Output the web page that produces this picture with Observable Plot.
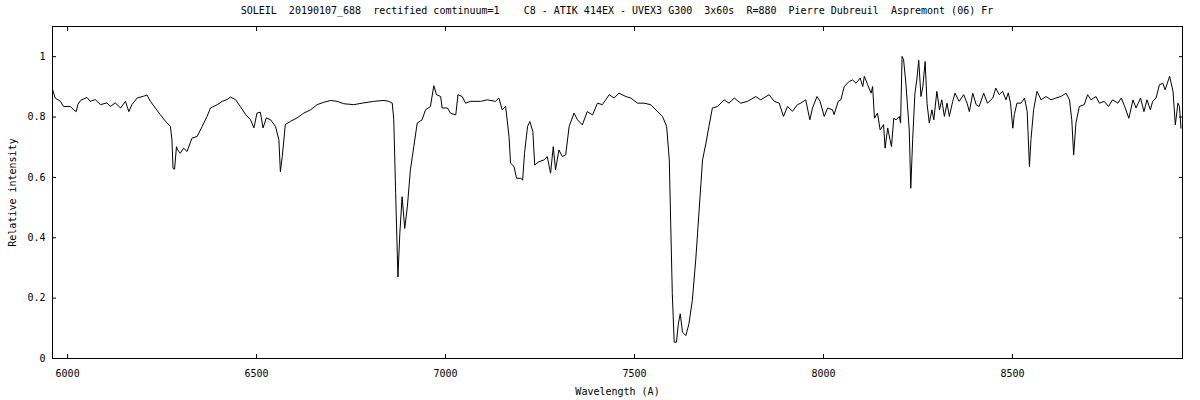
<!DOCTYPE html>
<html>
<head>
<meta charset="utf-8">
<script src="https://cdn.jsdelivr.net/npm/d3@7"></script>
<script src="https://cdn.jsdelivr.net/npm/@observablehq/plot@0.6"></script>
<style>
  body { margin: 0; background: #fff; }
  #wrap { position: relative; width: 1200px; height: 400px; }
  #title { position: absolute; top: 5px; left: 52px; width: 1130px; text-align: center;
    font: 10px "DejaVu Sans Mono", monospace; white-space: pre; color: #000; }
</style>
</head>
<body>
<div id="wrap"><div id="title">SOLEIL  20190107_688  rectified comtinuum=1    C8 - ATIK 414EX - UVEX3 G300  3x60s  R=880  Pierre Dubreuil  Aspremont (06) Fr</div></div>
<script>
const wavelengths = [
5961,5967,5981,5989,6007,6016,6023,6027,6034,6051,6060,6073,6087,6104,6113,6126,6140,6153,6162,6170,
6184,6201,6210,6219,6232,6245,6259,6272,6276,6279,6283,6288,6291,6298,6307,6316,6329,6343,6356,6369,
6378,6396,6409,6422,6431,6444,6457,6471,6484,6493,6501,6510,6517,6526,6537,6550,6559,6563,6568,6576,
6590,6607,6625,6643,6660,6678,6696,6713,6731,6757,6784,6810,6837,6850,6859,6863,6868,6874,6879,6885,
6892,6899,6907,6916,6925,6938,6947,6960,6969,6976,6987,6991,7005,7013,7027,7033,7044,7053,7066,7093,
7110,7132,7141,7150,7159,7168,7172,7181,7188,7199,7204,7209,7217,7223,7231,7236,7247,7261,7269,7278,
7285,7291,7300,7309,7318,7327,7340,7349,7362,7375,7389,7402,7415,7433,7446,7459,7477,7490,7508,7525,
7543,7561,7574,7585,7592,7596,7600,7605,7611,7616,7621,7627,7636,7644,7653,7662,7671,7680,7689,7697,
7706,7720,7737,7750,7764,7781,7799,7821,7834,7856,7870,7883,7894,7905,7918,7931,7940,7953,7964,7971,
7983,7991,8002,8011,8024,8028,8039,8046,8055,8068,8077,8086,8097,8104,8108,8117,8126,8130,8135,8143,
8150,8159,8163,8170,8176,8180,8186,8192,8201,8204,8208,8212,8218,8227,8231,8236,8242,8247,8252,8258,
8263,8269,8274,8280,8287,8292,8300,8307,8313,8320,8327,8333,8342,8348,8359,8371,8380,8386,8395,8404,
8412,8424,8434,8448,8456,8465,8474,8483,8489,8495,8501,8505,8512,8523,8532,8539,8545,8549,8556,8565,
8576,8589,8602,8615,8628,8642,8651,8657,8662,8668,8677,8690,8699,8708,8721,8730,8743,8754,8765,8779,
8788,8797,8808,8819,8827,8839,8848,8856,8865,8871,8880,8889,8898,8904,8916,8925,8931,8938,8942,8946
];
const intensity = [
0.888,0.863,0.852,0.835,0.835,0.824,0.818,0.841,0.855,0.865,0.852,0.858,0.841,0.847,0.835,0.847,0.830,0.852,0.818,0.841,
0.863,0.869,0.873,0.852,0.830,0.808,0.786,0.769,0.725,0.630,0.627,0.702,0.691,0.680,0.697,0.686,0.730,0.736,0.769,0.802,
0.830,0.841,0.852,0.858,0.866,0.858,0.835,0.808,0.791,0.764,0.813,0.816,0.764,0.797,0.791,0.769,0.725,0.619,0.669,0.775,
0.786,0.797,0.813,0.824,0.841,0.849,0.855,0.852,0.844,0.841,0.847,0.852,0.855,0.852,0.846,0.791,0.547,0.270,0.414,0.536,
0.431,0.503,0.625,0.702,0.780,0.791,0.824,0.835,0.904,0.874,0.868,0.830,0.830,0.813,0.807,0.874,0.868,0.846,0.852,0.852,
0.857,0.852,0.863,0.824,0.835,0.735,0.647,0.636,0.597,0.597,0.591,0.680,0.769,0.785,0.752,0.641,0.652,0.658,0.669,0.614,
0.702,0.625,0.691,0.669,0.675,0.769,0.813,0.791,0.774,0.818,0.807,0.846,0.841,0.874,0.863,0.879,0.868,0.863,0.846,0.846,
0.841,0.818,0.802,0.769,0.658,0.436,0.215,0.054,0.054,0.115,0.148,0.087,0.076,0.115,0.193,0.326,0.492,0.658,0.713,0.769,
0.830,0.835,0.857,0.846,0.863,0.846,0.852,0.868,0.857,0.874,0.852,0.846,0.802,0.835,0.819,0.841,0.846,0.857,0.791,0.830,
0.868,0.852,0.802,0.830,0.824,0.808,0.852,0.857,0.901,0.918,0.923,0.912,0.929,0.901,0.935,0.907,0.879,0.901,0.796,0.813,
0.757,0.775,0.697,0.764,0.725,0.702,0.796,0.791,0.802,0.780,1.001,0.990,0.913,0.757,0.564,0.725,0.879,0.923,0.988,0.868,
0.901,0.984,0.846,0.780,0.824,0.791,0.885,0.824,0.857,0.802,0.846,0.802,0.852,0.879,0.852,0.874,0.846,0.818,0.879,0.841,
0.835,0.879,0.846,0.863,0.896,0.874,0.885,0.857,0.880,0.846,0.763,0.808,0.846,0.846,0.863,0.818,0.636,0.725,0.824,0.885,
0.857,0.868,0.857,0.863,0.868,0.879,0.857,0.791,0.674,0.780,0.835,0.841,0.874,0.857,0.868,0.846,0.852,0.835,0.857,0.846,
0.863,0.835,0.796,0.857,0.830,0.863,0.818,0.857,0.824,0.852,0.863,0.907,0.912,0.890,0.935,0.885,0.774,0.846,0.835,0.763
];
const xTicks = [6000, 6500, 7000, 7500, 8000, 8500];
const yTicks = [0, 0.2, 0.4, 0.6, 0.8, 1];
const xLabel = "Wavelength (A)";
const yLabel = "Relative intensity";

const data = wavelengths.map((w, i) => ({w, v: intensity[i]}));
const font = '"DejaVu Sans Mono", monospace';

const chart = Plot.plot({
  width: 1200,
  height: 400,
  marginLeft: 52,
  marginRight: 18,
  marginTop: 26,
  marginBottom: 42,
  style: {fontFamily: font, fontSize: "10px", color: "#000", background: "#fff"},
  x: {domain: [5960, 8950]},
  y: {domain: [0, 1.1]},
  marks: [
    Plot.frame({stroke: "#000", strokeWidth: 1}),
    Plot.axisX(xTicks, {anchor: "bottom", tickSize: -4, tickPadding: 15, tickFormat: d => String(d),
      label: xLabel, labelAnchor: "center", labelOffset: 36, labelArrow: "none"}),
    Plot.axisX(xTicks, {anchor: "top", tickSize: -4, tickFormat: () => "", label: null}),
    Plot.axisY(yTicks, {anchor: "left", tickSize: -4, tickPadding: 11, tickFormat: d => String(d),
      label: yLabel, labelAnchor: "center", labelOffset: 44, labelArrow: "none"}),
    Plot.axisY(yTicks, {anchor: "right", tickSize: -4, tickFormat: () => "", label: null}),
    Plot.line(data, {x: "w", y: "v", stroke: "#000", strokeWidth: 1})
  ]
});
document.getElementById("wrap").appendChild(chart);
</script>
</body>
</html>
